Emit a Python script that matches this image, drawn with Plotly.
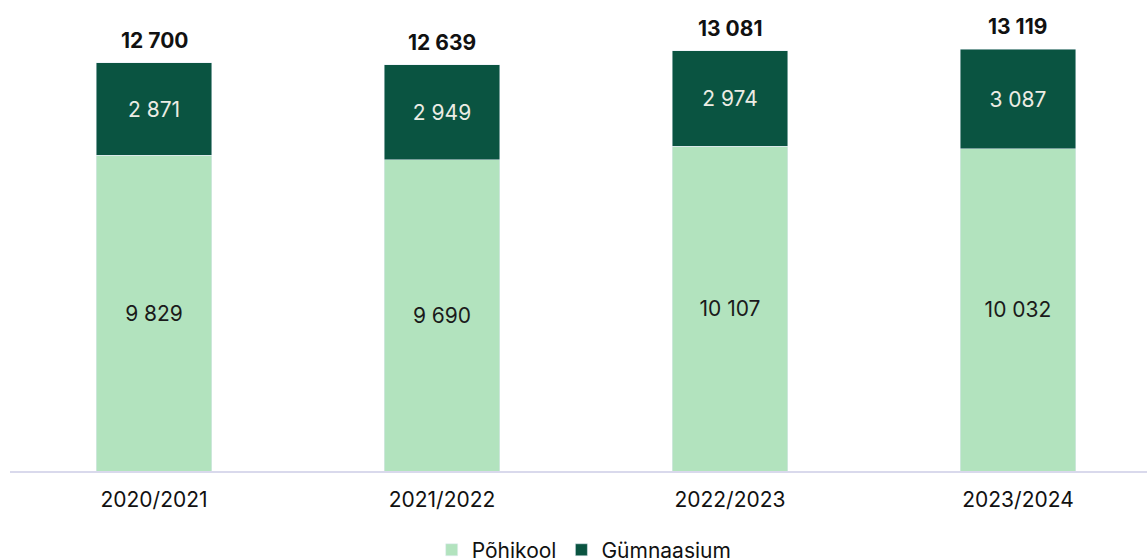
import plotly.graph_objects as go

years = ["2020/2021", "2021/2022", "2022/2023", "2023/2024"]
pohikool = [9829, 9690, 10107, 10032]
gumnaasium = [2871, 2949, 2974, 3087]
totals = [p + g for p, g in zip(pohikool, gumnaasium)]

light = "#b2e3be"
dark = "#0a5441"
font_family = "Inter, Roboto, sans-serif"

fig = go.Figure()
fig.add_trace(go.Bar(
    x=years, y=pohikool, name="Põhikool", marker_color=light,
    texttemplate="%{y:,}", textposition="inside", insidetextanchor="middle",
    textfont=dict(color="#1a1a1a", size=21, family=font_family),
    width=0.4,
))
fig.add_trace(go.Bar(
    x=years, y=gumnaasium, name="Gümnaasium", marker_color=dark,
    texttemplate="%{y:,}", textposition="inside", insidetextanchor="middle",
    textfont=dict(color="#ecece4", size=21, family=font_family),
    width=0.4,
))

for yr, t in zip(years, totals):
    fig.add_annotation(
        x=yr, y=t, text=f"<b>{t:,}</b>".replace(",", " "),
        showarrow=False, yanchor="bottom", yshift=8,
        font=dict(size=21, color="#111111", family=font_family),
    )

fig.update_layout(
    barmode="stack",
    width=1147, height=558,
    margin=dict(l=10, r=0, t=0, b=87, autoexpand=False),
    paper_bgcolor="white", plot_bgcolor="white",
    separators=", ",
    font=dict(family=font_family, size=21, color="#111111"),
    legend=dict(
        orientation="h", x=0.505, xanchor="center", y=-0.168, yanchor="middle",
        font=dict(size=21), traceorder="normal", itemwidth=30,
    ),
    xaxis=dict(
        range=[-0.5, 3.448], showline=True, linecolor="#d9d9ec", linewidth=2,
        ticks="", showgrid=False, tickfont=dict(size=21), ticklabelstandoff=9,
        automargin=False,
    ),
    yaxis=dict(
        range=[0, 14659], visible=False, showgrid=False, zeroline=False,
        automargin=False,
    ),
    bargap=0.6,
)

fig.write_html("out.html")
